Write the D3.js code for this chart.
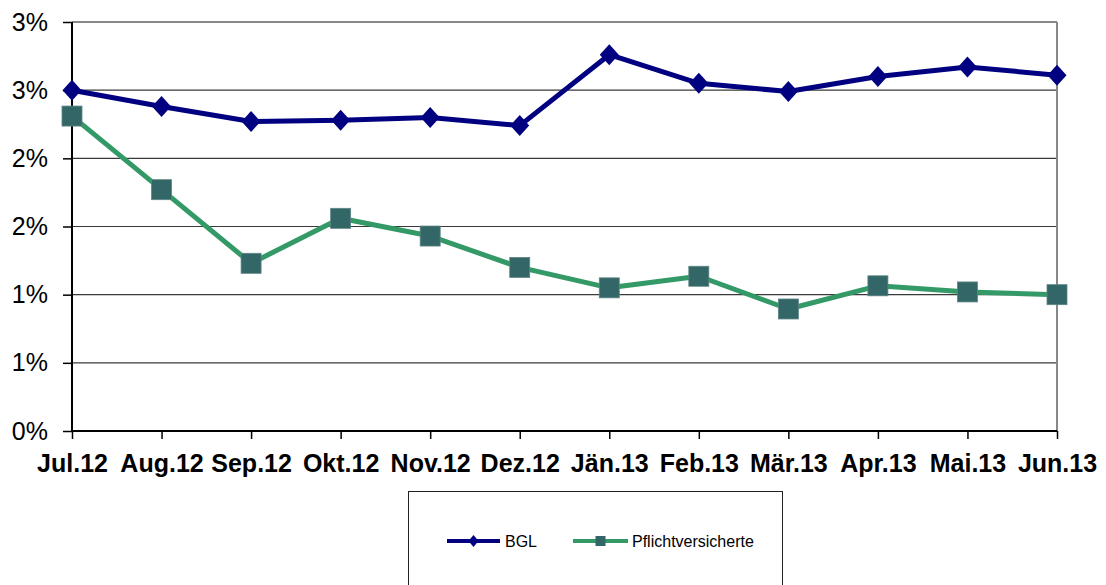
<!DOCTYPE html>
<html>
<head>
<meta charset="utf-8">
<script src="https://cdn.jsdelivr.net/npm/d3@7"></script>
<style>
  html, body { margin: 0; padding: 0; background: #fff; }
  svg { display: block; font-family: "Liberation Sans", Arial, sans-serif; }
</style>
</head>
<body>
<svg id="chart" width="1106" height="585"></svg>
<script>
const categories = ["Jul.12","Aug.12","Sep.12","Okt.12","Nov.12","Dez.12","Jän.13","Feb.13","Mär.13","Apr.13","Mai.13","Jun.13"];
const bglValues = [2.50, 2.38, 2.27, 2.28, 2.30, 2.24, 2.76, 2.55, 2.49, 2.60, 2.67, 2.61];
const pflichtValues = [2.31, 1.77, 1.23, 1.56, 1.43, 1.20, 1.05, 1.135, 0.895, 1.065, 1.02, 1.00];
const yTickValues = [0, 0.5, 1.0, 1.5, 2.0, 2.5, 3.0];
const yTickLabels = ["0%", "1%", "1%", "2%", "2%", "3%", "3%"];
const seriesNames = ["BGL", "Pflichtversicherte"];

(function () {
const svg = d3.select("#chart");
const pLeft = 72, pRight = 1057, pTop = 22, pBottom = 431;

const x = d3.scalePoint().domain(categories).range([pLeft, pRight]).padding(0);
const y = d3.scaleLinear().domain([0, 3]).range([pBottom, pTop]);

// gridlines
svg.append("g").selectAll("line").data(yTickValues.slice(1, -1)).join("line")
  .attr("x1", pLeft).attr("x2", pRight)
  .attr("y1", d => y(d)).attr("y2", d => y(d))
  .attr("stroke", "#3a3a3a").attr("stroke-width", 1.2);

// plot border top/right
svg.append("line").attr("x1", pLeft).attr("x2", pRight).attr("y1", y(3)).attr("y2", y(3))
  .attr("stroke", "#888").attr("stroke-width", 2);
svg.append("line").attr("x1", pRight).attr("x2", pRight).attr("y1", y(3)).attr("y2", y(0))
  .attr("stroke", "#888").attr("stroke-width", 2);

// y axis
const yAxis = svg.append("g").attr("transform", `translate(${pLeft},0)`)
  .call(d3.axisLeft(y).tickValues(yTickValues).tickFormat((d, i) => yTickLabels[i]).tickSize(9).tickPadding(15));
yAxis.select(".domain").attr("stroke", "#000").attr("stroke-width", 2).attr("d", `M0,${pTop}V${pBottom}`);
yAxis.selectAll(".tick line").attr("stroke", "#000").attr("stroke-width", 1.5);
yAxis.selectAll(".tick text").attr("font-size", 25).attr("fill", "#000")
  .attr("font-family", "'Liberation Sans', Arial, sans-serif");

// x axis
const xAxis = svg.append("g").attr("transform", `translate(0,${pBottom})`)
  .call(d3.axisBottom(x).tickSize(8).tickPadding(15));
xAxis.select(".domain").attr("stroke", "#000").attr("stroke-width", 2).attr("d", `M${pLeft},0H${pRight}`);
xAxis.selectAll(".tick line").attr("stroke", "#000").attr("stroke-width", 1.5);
xAxis.selectAll(".tick text").attr("font-size", 25).attr("font-weight", "bold").attr("fill", "#000")
  .attr("font-family", "'Liberation Sans', Arial, sans-serif");

const line = d3.line().x((d, i) => x(categories[i])).y(d => y(d));

// Pflicht series
svg.append("path").datum(pflichtValues).attr("d", line)
  .attr("fill", "none").attr("stroke", "#339966").attr("stroke-width", 5).attr("stroke-linejoin", "round");
// BGL series
svg.append("path").datum(bglValues).attr("d", line)
  .attr("fill", "none").attr("stroke", "#000080").attr("stroke-width", 5).attr("stroke-linejoin", "round");

const diamond = (hw, hh) => `M0,${-hh}L${hw},0L0,${hh}L${-hw},0Z`;

svg.append("g").selectAll("path").data(bglValues).join("path")
  .attr("transform", (d, i) => `translate(${x(categories[i])},${y(d)})`)
  .attr("d", diamond(9.5, 10.5)).attr("fill", "#000080");

svg.append("g").selectAll("rect").data(pflichtValues).join("rect")
  .attr("x", (d, i) => x(categories[i]) - 10).attr("y", d => y(d) - 10)
  .attr("width", 20).attr("height", 20)
  .attr("fill", "#336666").attr("stroke", "#5f8585").attr("stroke-width", 0.8);

// legend
const lg = svg.append("g");
lg.append("rect").attr("x", 408.5).attr("y", 491.5).attr("width", 374).attr("height", 130)
  .attr("fill", "#fff").attr("stroke", "#222").attr("stroke-width", 1);
const ly = 541;
lg.append("line").attr("x1", 447).attr("x2", 500).attr("y1", ly).attr("y2", ly)
  .attr("stroke", "#000080").attr("stroke-width", 4);
lg.append("path").attr("transform", `translate(473.5,${ly})`).attr("d", diamond(5, 6)).attr("fill", "#000080");
lg.append("text").attr("x", 505).attr("y", ly).attr("dy", "0.36em").attr("font-size", 16).text(seriesNames[0]);
lg.append("line").attr("x1", 573).attr("x2", 628).attr("y1", ly).attr("y2", ly)
  .attr("stroke", "#339966").attr("stroke-width", 4);
lg.append("rect").attr("x", 600.5 - 5).attr("y", ly - 5).attr("width", 10).attr("height", 10).attr("fill", "#336666");
lg.append("text").attr("x", 632).attr("y", ly).attr("dy", "0.36em").attr("font-size", 16).text(seriesNames[1]);
})();
</script>
</body>
</html>
